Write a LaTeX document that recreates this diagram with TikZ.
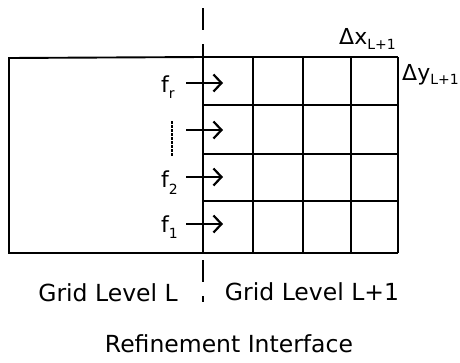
\documentclass[tikz,border=0pt]{standalone}
\usepackage{fontspec}
\setmainfont{DejaVu Sans}
\usetikzlibrary{arrows.meta}
\newcommand{\lowsub}[2]{\raisebox{#1}{\fontsize{14}{14}\selectfont #2}}
\tikzset{
  gridline/.style={line width=1.9pt},
  flux/.style={line width=2.2pt,-{Straight Barb[length=8pt,width=17pt,line width=2.2pt]}},
  lab/.style={font=\fontsize{23.5}{23.5}\selectfont, inner sep=0pt, anchor=base},
  smalllab/.style={font=\fontsize{22}{22}\selectfont, inner sep=0pt, anchor=base west},
  iface/.style={line width=2.2pt, dash pattern=on 22pt off 14pt}
}
\begin{document}
\begin{tikzpicture}[x=1pt,y=-1pt]
\useasboundingbox (0,0) rectangle (460,362);
% coarse region
\draw[gridline] (203,57) -- (9,58) -- (9,253) -- (203,253);
% fine grid
\foreach \x in {203,253,303,351,398} \draw[gridline] (\x,57) -- (\x,253);
\foreach \y in {57,105,154,201,253} \draw[gridline] (203,\y) -- (398,\y);
% interface
\coordinate (itop) at (203,8);
\coordinate (ibot) at (203,302);
\draw[iface] (itop) -- (ibot);
% fluxes
\foreach \n/\y in {r/83,d/130,two/177,one/224}{
  \coordinate (s\n) at (186,\y);
  \coordinate (e\n) at (223,\y);
  \draw[flux] (s\n) -- (e\n);
}
\node[smalllab] (fr) at (161,92) {f\lowsub{-6pt}{r}};
\node[smalllab] (f2) at (161,187) {f\lowsub{-7pt}{2}};
\node[smalllab] (f1) at (161,232) {f\lowsub{-6pt}{1}};
\coordinate (dtop) at (172,121);
\coordinate (dbot) at (172,157);
\draw[line width=1.8pt, dash pattern=on 2.5pt off 1.5pt] (dtop) -- (dbot);
% spacing labels
\node[smalllab] (dx) at (339,44) {Δx\lowsub{-5pt}{L+1}};
\node[smalllab] (dy) at (402,80) {Δy\lowsub{-4pt}{L+1}};
% bottom labels
\node[lab] (gl) at (108,301) {Grid Level L};
\node[lab] (gl1) at (312,300) {Grid Level L+1};
\node[lab] (ri) at (229,352) {Refinement Interface};
\end{tikzpicture}
\end{document}
